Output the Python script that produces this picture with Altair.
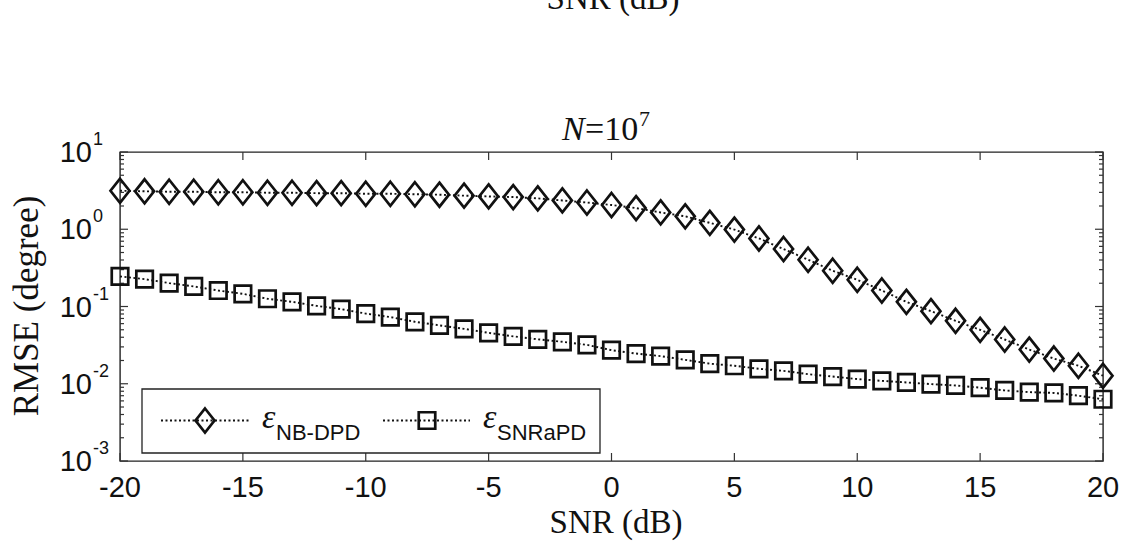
import altair as alt
import pandas as pd

# SNR grid (dB)
snr = [-20, -19, -18, -17, -16, -15, -14, -13, -12, -11, -10,
       -9, -8, -7, -6, -5, -4, -3, -2, -1, 0,
       1, 2, 3, 4, 5, 6, 7, 8, 9, 10,
       11, 12, 13, 14, 15, 16, 17, 18, 19, 20]

# RMSE (degree) of the two estimators
rmse_nb_dpd = [3.15, 3.10, 3.06, 3.06, 3.01, 3.01, 2.97, 2.97, 2.93, 2.93, 2.88,
               2.88, 2.84, 2.80, 2.72, 2.66, 2.61, 2.51, 2.36, 2.22, 2.06,
               1.88, 1.65, 1.47, 1.21, 0.99, 0.76, 0.555, 0.403, 0.290, 0.222,
               0.161, 0.115, 0.0871, 0.0653, 0.0499, 0.0374, 0.0277, 0.0212, 0.0171, 0.0127]
rmse_snrapd = [0.245, 0.226, 0.201, 0.182, 0.161, 0.146, 0.126, 0.115, 0.102, 0.0925, 0.081,
               0.073, 0.0634, 0.057, 0.0514, 0.0456, 0.0411, 0.0376, 0.0349, 0.0319, 0.0272,
               0.0246, 0.0228, 0.0204, 0.0182, 0.0171, 0.0156, 0.0147, 0.0133, 0.0124, 0.0115,
               0.0109, 0.0104, 0.0099, 0.0095, 0.0089, 0.0082, 0.0078, 0.0076, 0.0070, 0.0063]

# axis ticks
x_major = [-20, -15, -10, -5, 0, 5, 10, 15, 20]
x_labels = ["-20", "-15", "-10", "-5", "0", "5", "10", "15", "20"]
y_decades = [0.001, 0.01, 0.1, 1, 10]
y_exponents = ["-3", "-2", "-1", "0", "1"]
y_minor = [m * d for d in [0.001, 0.01, 0.1, 1] for m in range(2, 10)]

W, H = 983, 309
SERIF = "Liberation Serif"
SANS = "Liberation Sans"
INK = "#111111"
DIAMOND = "M0,-1.2L0.95,0L0,1.2L-0.95,0Z"

x_scale = alt.Scale(domain=[-20, 20], nice=False, zero=False)
y_scale = alt.Scale(type="log", domain=[0.001, 10], nice=False)

nb = pd.DataFrame({"snr": snr, "rmse": rmse_nb_dpd})
sp = pd.DataFrame({"snr": snr, "rmse": rmse_snrapd})
one = pd.DataFrame({"k": [0]})

X = alt.X("snr:Q", scale=x_scale, axis=None)
Y = alt.Y("rmse:Q", scale=y_scale, axis=None)

dots = dict(color=INK, strokeDash=[2, 2.5], strokeWidth=1.9)
line_nb = alt.Chart(nb).mark_line(**dots).encode(x=X, y=Y)
line_sp = alt.Chart(sp).mark_line(**dots).encode(x=X, y=Y)
pts_nb = alt.Chart(nb).mark_point(shape=DIAMOND, size=400, filled=False,
                                  stroke=INK, strokeWidth=2.7, opacity=1).encode(x=X, y=Y)
pts_sp = alt.Chart(sp).mark_point(shape="square", size=272, filled=False,
                                  stroke=INK, strokeWidth=2.7, opacity=1).encode(x=X, y=Y)

# tick marks drawn inside the frame
xt = pd.DataFrame({"snr": x_major, "lab": x_labels})
yd = pd.DataFrame({"rmse": y_decades, "ex": y_exponents})
ym = pd.DataFrame({"rmse": y_minor})
tick = dict(color="#333333", strokeWidth=1.2)
xq = alt.X("snr:Q", scale=x_scale, axis=None)
yq = alt.Y("rmse:Q", scale=y_scale, axis=None)
ticks = [
    alt.Chart(xt).mark_rule(**tick).encode(x=xq, y=alt.value(H), y2=alt.value(H - 8)),
    alt.Chart(xt).mark_rule(**tick).encode(x=xq, y=alt.value(0), y2=alt.value(8)),
    alt.Chart(yd).mark_rule(**tick).encode(y=yq, x=alt.value(0), x2=alt.value(8)),
    alt.Chart(yd).mark_rule(**tick).encode(y=yq, x=alt.value(W), x2=alt.value(W - 8)),
    alt.Chart(ym).mark_rule(**tick).encode(y=yq, x=alt.value(0), x2=alt.value(4)),
    alt.Chart(ym).mark_rule(**tick).encode(y=yq, x=alt.value(W), x2=alt.value(W - 4)),
]

# tick labels
x_lab = alt.Chart(xt).mark_text(font=SANS, fontSize=29, color=INK, baseline="alphabetic").encode(
    x=xq, y=alt.value(H + 36), text="lab:N")
y_lab = alt.Chart(yd).mark_text(font=SANS, fontSize=29, color=INK, align="right",
                                baseline="middle", dy=1).encode(
    y=yq, x=alt.value(-28), text=alt.value("10"))
y_exp = alt.Chart(yd).mark_text(font=SANS, fontSize=18, color=INK, align="left",
                                baseline="alphabetic", dy=-7).encode(
    y=yq, x=alt.value(-27), text="ex:N")

def label(txt, x, y, **kw):
    return alt.Chart(one).mark_text(**kw).encode(x=alt.value(x), y=alt.value(y), text=alt.value(txt))

texts = [
    label("SNR (dB)", 496, 381, font=SERIF, fontSize=33, color=INK, align="center", baseline="alphabetic"),
    label("SNR (dB)", 493, -143, font=SERIF, fontSize=33, color=INK, align="center", baseline="alphabetic"),
    label("RMSE (degree)", -82, 154, font=SERIF, fontSize=35, color=INK, align="center",
          baseline="alphabetic", angle=270),
    label("N", 442, -12, font=SERIF, fontSize=34, fontStyle="italic", color=INK, align="left", baseline="alphabetic"),
    label("=10", 465, -12, font=SERIF, fontSize=34, color=INK, align="left", baseline="alphabetic"),
    label("7", 519, -26, font=SERIF, fontSize=22, color=INK, align="left", baseline="alphabetic"),
]

# legend box
leg = [
    alt.Chart(one).mark_rect(fill="white", stroke="#222222", strokeWidth=1.3).encode(
        x=alt.value(22), x2=alt.value(480), y=alt.value(237), y2=alt.value(301)),
    alt.Chart(one).mark_rule(**dots).encode(x=alt.value(41), x2=alt.value(130), y=alt.value(268.5)),
    alt.Chart(one).mark_rule(**dots).encode(x=alt.value(263), x2=alt.value(350), y=alt.value(268.5)),
    alt.Chart(one).mark_point(shape=DIAMOND, size=400, filled=False, stroke=INK,
                              strokeWidth=2.7, opacity=1).encode(x=alt.value(85), y=alt.value(268.5)),
    alt.Chart(one).mark_point(shape="square", size=272, filled=False, stroke=INK,
                              strokeWidth=2.7, opacity=1).encode(x=alt.value(307), y=alt.value(268.5)),
    label("ε", 142, 276, font=SERIF, fontSize=34, fontStyle="italic", color=INK, align="left", baseline="alphabetic"),
    label("NB-DPD", 156, 288, font=SANS, fontSize=22, color=INK, align="left", baseline="alphabetic"),
    label("ε", 363, 276, font=SERIF, fontSize=34, fontStyle="italic", color=INK, align="left", baseline="alphabetic"),
    label("SNRaPD", 377, 288, font=SANS, fontSize=22, color=INK, align="left", baseline="alphabetic"),
]

chart = alt.layer(
    line_nb, line_sp, *ticks, pts_nb, pts_sp, x_lab, y_lab, y_exp, *texts, *leg
).properties(
    width=W, height=H,
    autosize=alt.AutoSizeParams(type="none"),
    padding={"left": 120, "top": 152, "right": 26, "bottom": 87},
    background="white",
).configure_view(stroke="#222222", strokeWidth=1.4)

chart.save("out.html", embed_options={"renderer": "svg", "actions": False})
